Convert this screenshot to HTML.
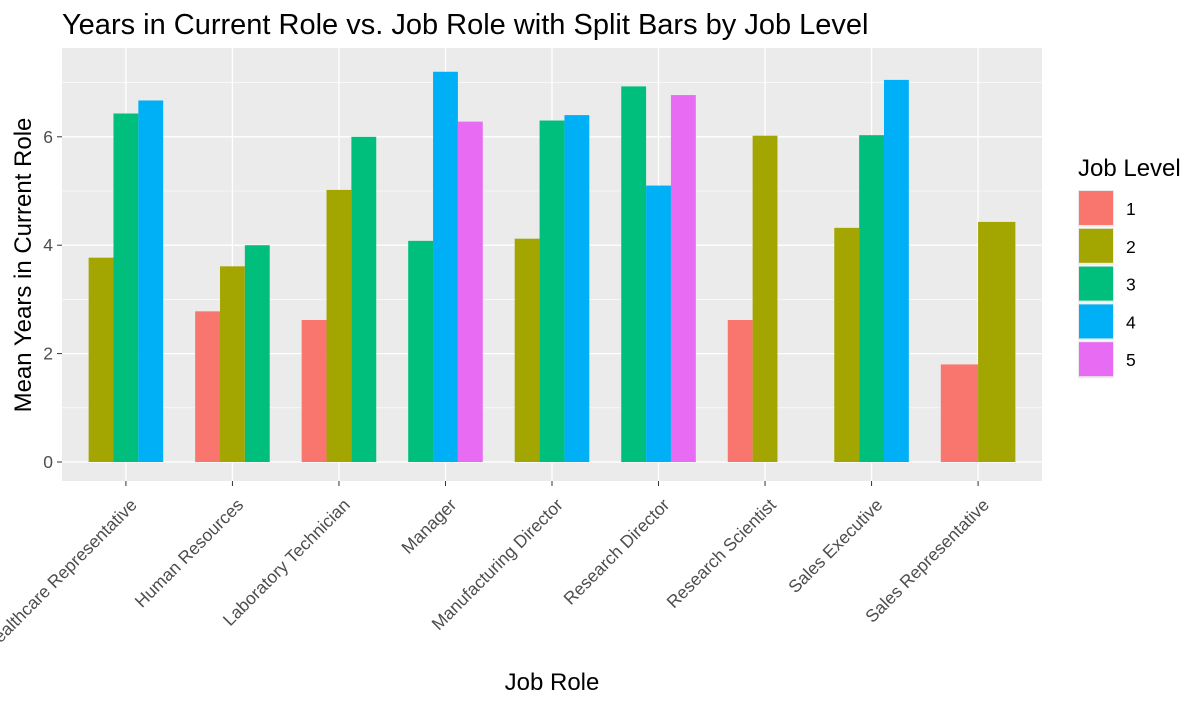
<!DOCTYPE html>
<html><head><meta charset="utf-8"><style>
body{margin:0;background:#fff;}
svg{display:block;font-family:"Liberation Sans",Arial,sans-serif;}
</style></head><body>
<svg id="chart" width="1204" height="705">
<text x="62" y="34" font-size="29" fill="#000">Years in Current Role vs. Job Role with Split Bars by Job Level</text>
<rect x="62" y="48" width="980" height="433" fill="#ebebeb"/>
<g id="grid"></g><g id="bars"></g><g id="yticks"></g><g id="xticks"></g>
<text x="552" y="690" font-size="24" text-anchor="middle" fill="#000">Job Role</text>
<text transform="translate(31,265) rotate(-90)" font-size="24" text-anchor="middle" fill="#000">Mean Years in Current Role</text>
<g id="legend">
<text x="1078" y="176" font-size="24" fill="#000">Job Level</text>
</g>
</svg>
<script>
const categories=["Healthcare Representative","Human Resources","Laboratory Technician","Manager","Manufacturing Director","Research Director","Research Scientist","Sales Executive","Sales Representative"];
const levels=["1","2","3","4","5"];
const colors=["#F8766D","#A3A500","#00BF7D","#00B0F6","#E76BF3"];
const level1=[null,2.78,2.62,null,null,null,2.62,null,1.8];
const level2=[3.77,3.61,5.02,null,4.12,null,6.02,4.32,4.43];
const level3=[6.43,4.0,6.0,4.08,6.3,6.93,null,6.03,null];
const level4=[6.67,null,null,7.2,6.4,5.1,null,7.05,null];
const level5=[null,null,null,6.28,null,6.77,null,null,null];
const slots=[3,3,3,3,3,3,3,3,2];
const yTicks=[0,2,4,6];
const series=[level1,level2,level3,level4,level5];
const NS="http://www.w3.org/2000/svg";
const L=62,R=1042,T=48,B=481;
const step=(R-L)/9.2;
const xc=i=>L+(i+0.6)*step;
const y0=462,ppu=54.2;
const y=v=>y0-v*ppu;
function mk(tag,attrs,parent){const e=document.createElementNS(NS,tag);for(const k in attrs)e.setAttribute(k,attrs[k]);parent.appendChild(e);return e;}
const grid=document.getElementById('grid');
for(let v=1;v<=7;v+=2){const g=mk('line',{x1:L,x2:R,y1:y(v),y2:y(v),stroke:'#fff','stroke-width':0.6},grid);

}
yTicks.forEach(v=>{const g=mk('line',{x1:L,x2:R,y1:y(v),y2:y(v),stroke:'#fff','stroke-width':1.3},grid);

});
categories.forEach((c,i)=>{const g=mk('line',{x1:xc(i),x2:xc(i),y1:T,y2:B,stroke:'#fff','stroke-width':1.3},grid);

});
const bars=document.getElementById('bars');
categories.forEach((c,i)=>{
  const w=0.7*step/slots[i];let k=0;const left=xc(i)-0.35*step;
  series.forEach((s,li)=>{
    if(s[i]===null){ if(i===6&&li===2)k++; return; }
    const r=mk('rect',{x:left+k*w,y:y(s[i]),width:w,height:y0-y(s[i]),fill:colors[li]},bars);
    
    
    k++;
  });
});
const yt=document.getElementById('yticks');
yTicks.forEach(v=>{
  const t=mk('text',{x:53,y:y(v)+6,'font-size':17.5,'text-anchor':'end',fill:'#4d4d4d'},yt);t.textContent=v;
  
  
  const l=mk('line',{x1:57,x2:62,y1:y(v),y2:y(v),stroke:'#333','stroke-width':1},yt);
  
  
});
const xt=document.getElementById('xticks');
categories.forEach((c,i)=>{
  const l=mk('line',{x1:xc(i),x2:xc(i),y1:B,y2:B+5,stroke:'#333','stroke-width':1},xt);
  
  
  const t=mk('text',{transform:`translate(${xc(i)+12},${B+25}) rotate(-45)`,'font-size':17.5,'text-anchor':'end',fill:'#4d4d4d'},xt);
  t.textContent=c;
  
  
});
const lg=document.getElementById('legend');
levels.forEach((lv,i)=>{
  const ky=190+i*37.8;
  const bg=mk('rect',{x:1078,y:ky,width:36,height:37,fill:'#ebebeb'},lg);
  
  
  const r=mk('rect',{x:1079,y:ky+1,width:34,height:34,fill:colors[i]},lg);
  
  
  const t=mk('text',{x:1126,y:ky+25,'font-size':17.5,fill:'#000'},lg);t.textContent=lv;
  
  
});
</script>
</body></html>
